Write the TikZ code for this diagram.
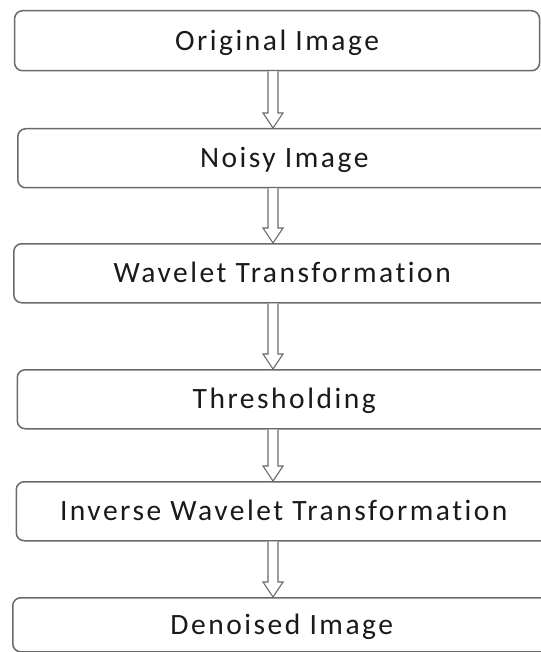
\documentclass[tikz,border=0pt]{standalone}
\usepackage{fontspec}
\setmainfont{Carlito}[LetterSpace=8.5, Ligatures={NoCommon}]
\usetikzlibrary{calc}
\definecolor{edge}{HTML}{6A6A6A}
\definecolor{ink}{HTML}{1A1A1A}
\tikzset{
  stage/.style={draw=edge, line width=1.5pt, rounded corners=8pt, fill=white,
    text=ink, font=\fontsize{29.5}{32}\selectfont, inner sep=0pt,
    text height=19pt, text depth=0pt, anchor=north west},
  hollow/.style={draw=edge, line width=1.1pt, fill=white, line join=miter},
}
% hollow block arrow from the bottom of #1 to the top of #2, on the column x = 273
\newcommand\blockarrow[2]{%
  \draw[hollow] ($(#1.south -| col)+(-5,0)$) -- ($(#2.north -| col)+(-5,-15)$)
    -- ($(#2.north -| col)+(-10,-15)$) -- (#2.north -| col)
    -- ($(#2.north -| col)+(10,-15)$) -- ($(#2.north -| col)+(5,-15)$)
    -- ($(#1.south -| col)+(5,0)$);}
\begin{document}
\begin{tikzpicture}[x=1pt, y=-1pt]
\useasboundingbox (0,0) rectangle (540,652);
\coordinate (col) at (273,0);
\node[stage, minimum width=525pt, minimum height=60pt] (orig) at (13.8,10) {Original Image};
\node[stage, minimum width=533pt, minimum height=59pt] (noisy) at (17,128) {Noisy Image};
\node[stage, minimum width=537pt, minimum height=59pt] (wt) at (13,243) {Wavelet Transformation};
\node[stage, minimum width=534pt, minimum height=59pt] (thr) at (16.5,369) {Thresholding};
\node[stage, minimum width=535pt, minimum height=59pt] (iwt) at (15.5,481) {Inverse Wavelet Transformation};
\node[stage, minimum width=538pt, minimum height=54pt] (den) at (12,597) {Denoised Image};
\blockarrow{orig}{noisy}
\blockarrow{noisy}{wt}
\blockarrow{wt}{thr}
\blockarrow{thr}{iwt}
\blockarrow{iwt}{den}
\end{tikzpicture}
\end{document}
